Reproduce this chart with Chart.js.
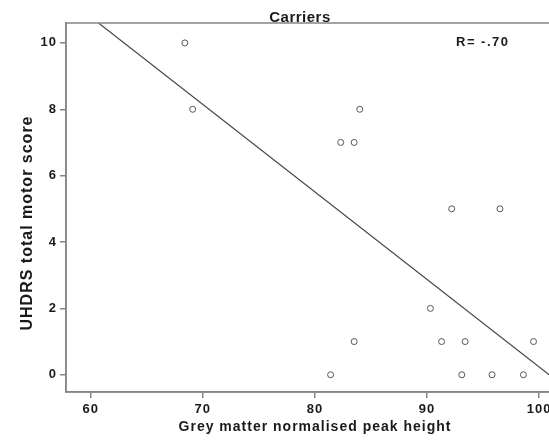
<!DOCTYPE html>
<html lang="en">
<head>
    <meta charset="UTF-8">
    <title>Carriers</title>
    <script src="https://cdn.jsdelivr.net/npm/chart.js"></script>
    <style>
        html, body { margin: 0; padding: 0; background: #fff; overflow: hidden; }
        .wrap { width: 549px; height: 443px; overflow: hidden; }
    </style>
</head>
<body>
    <div class="wrap">
        <canvas id="scatter" width="600" height="443"></canvas>
    </div>

    <script>
        // data
        const peakHeight = [68.4, 69.1, 82.3, 83.5, 84.0, 92.2, 96.5, 90.3, 91.3, 83.5, 93.4, 99.5, 81.4, 93.1, 95.8, 98.6];
        const motorScore = [10, 8, 7, 7, 8, 5, 5, 2, 1, 1, 1, 1, 0, 0, 0, 0];
        const fitX = [60.7, 104];
        const fitY = [10.6, -0.82];
        const xTicks = [60, 70, 80, 90, 100];
        const yTicks = [0, 2, 4, 6, 8, 10];

        const axisGrey = '#858585';
        const fontFam = '"Liberation Sans", Arial, sans-serif';

        const labels = {
            id: 'labels',
            beforeDraw(chart) {
                chart.ctx.letterSpacing = '1px';
            },
            afterDraw(chart) {
                const { ctx, chartArea: a } = chart;
                ctx.save();
                ctx.strokeStyle = axisGrey;
                ctx.lineWidth = 1.5;
                ctx.strokeRect(a.left, a.top, a.right - a.left, a.bottom - a.top);

                ctx.fillStyle = '#1a1a1a';
                ctx.letterSpacing = '0.5px';
                ctx.textAlign = 'center';
                ctx.textBaseline = 'alphabetic';
                ctx.font = 'bold 15px ' + fontFam;
                ctx.fillText('Carriers', 300, 22);

                ctx.letterSpacing = '1.5px';
                ctx.font = 'bold 13px ' + fontFam;
                ctx.textAlign = 'left';
                ctx.fillText('R= -.70', 456, 46);

                ctx.letterSpacing = '1px';
                ctx.font = 'bold 14px ' + fontFam;
                ctx.textAlign = 'center';
                ctx.fillText('Grey matter normalised peak height', 315, 431);

                ctx.font = 'bold 16px ' + fontFam;
                ctx.textBaseline = 'middle';
                ctx.translate(28, 223);
                ctx.rotate(-Math.PI / 2);
                ctx.fillText('UHDRS total motor score', 0, 0);
                ctx.restore();
            }
        };

        new Chart(document.getElementById('scatter'), {
            type: 'scatter',
            data: {
                datasets: [{
                    data: peakHeight.map((x, i) => ({ x: x, y: motorScore[i] })),
                    pointRadius: 3,
                    pointBorderWidth: 1,
                    pointBorderColor: '#555',
                    pointBackgroundColor: '#fff',
                    pointHoverRadius: 3
                }, {
                    type: 'line',
                    data: fitX.map((x, i) => ({ x: x, y: fitY[i] })),
                    borderColor: '#474747',
                    borderWidth: 1.2,
                    pointRadius: 0,
                    fill: false
                }]
            },
            options: {
                responsive: false,
                animation: false,
                layout: { padding: { top: 23, right: 16, left: 0, bottom: 0 } },
                plugins: {
                    legend: { display: false },
                    title: { display: false },
                    tooltip: { enabled: false }
                },
                scales: {
                    x: {
                        type: 'linear',
                        min: 57.8,
                        max: 104,
                        afterBuildTicks: s => { s.ticks = xTicks.map(v => ({ value: v })); },
                        afterFit: s => { s.height = 51; },
                        border: { color: axisGrey, width: 1.5 },
                        grid: { drawOnChartArea: false, color: axisGrey, tickLength: 6, lineWidth: 1.5 },
                        ticks: { color: '#1a1a1a', padding: 4, font: { family: fontFam, size: 13, weight: 'bold' } }
                    },
                    y: {
                        min: -0.52,
                        max: 10.6,
                        afterBuildTicks: s => { s.ticks = yTicks.map(v => ({ value: v })); },
                        afterFit: s => { s.width = 66; },
                        border: { color: axisGrey, width: 1.5 },
                        grid: { drawOnChartArea: false, color: axisGrey, tickLength: 6, lineWidth: 1.5 },
                        ticks: { color: '#1a1a1a', padding: 3, font: { family: fontFam, size: 13, weight: 'bold' } }
                    }
                }
            },
            plugins: [labels]
        });
    </script>
</body>
</html>
